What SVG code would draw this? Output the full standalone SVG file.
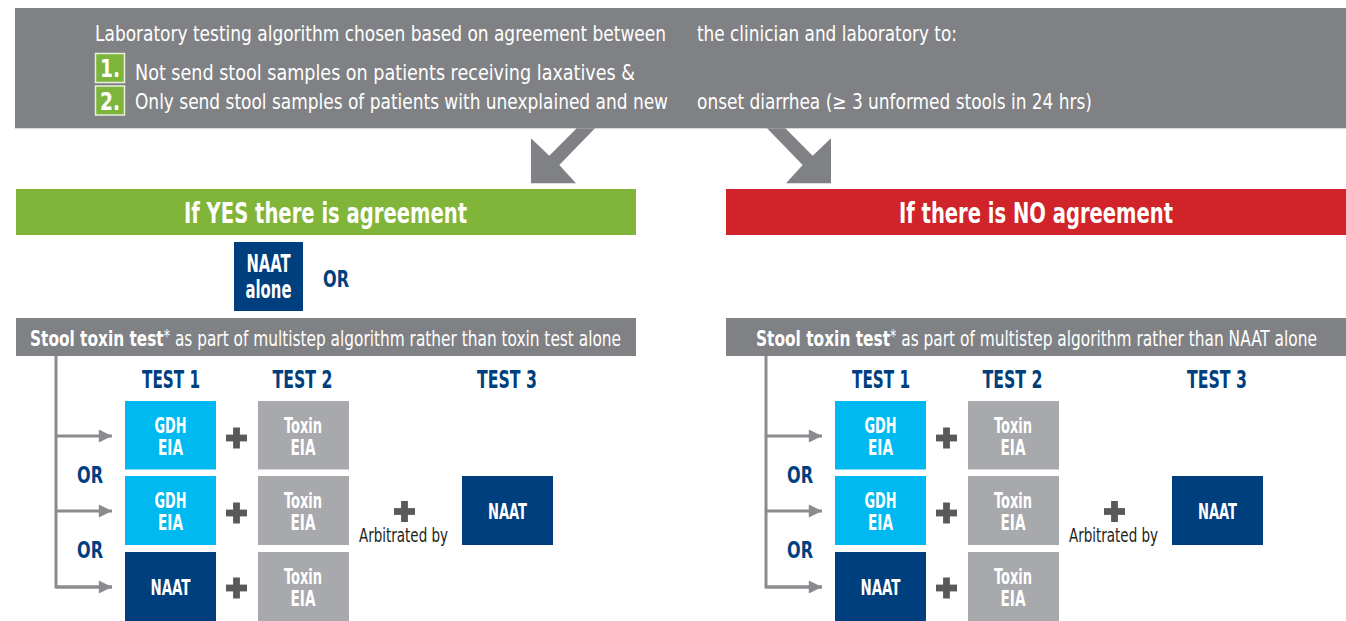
<svg xmlns="http://www.w3.org/2000/svg" width="1346" height="621" viewBox="0 0 1346 621">
<defs>
<style>
text{font-family:"Liberation Sans Narrow","DejaVu Sans Condensed","Liberation Sans",Arial,sans-serif;font-stretch:condensed;}
.top{fill:#ffffff;font-size:20.5px;}
.num{fill:#ffffff;font-size:24px;font-weight:bold;text-anchor:middle;}
.hdr{fill:#ffffff;font-size:29px;font-weight:bold;text-anchor:middle;}
.bar{fill:#ffffff;font-size:22px;}
.blue{fill:#003f7e;font-weight:bold;text-anchor:middle;}
.bx{fill:#ffffff;font-size:21px;font-weight:bold;text-anchor:middle;}
.arb{fill:#231f20;font-size:19px;text-anchor:middle;}
.g{fill:#808184;}
.cyan{fill:#00b9f0;}
.dblue{fill:#003f7e;}
.tox{fill:#a7a9ac;}
.plus{fill:#58595b;}
.conn{stroke:#8a8b8e;stroke-width:3;fill:none;}
</style>
<marker id="ah" viewBox="0 0 10 10" refX="10" refY="5" markerWidth="6" markerHeight="4.4" markerUnits="strokeWidth" orient="auto">
<path d="M0,0 L10,5 L0,10 Z" fill="#8a8b8e"/>
</marker>
<g id="plusShape"><rect x="-10.5" y="-3.4" width="21" height="6.8"/><rect x="-3.4" y="-10.5" width="6.8" height="21"/></g>
</defs>

<g id="top-box">
<rect class="g" x="15" y="8" width="1331" height="120.3"/>
<text class="top" x="95" y="41" textLength="571" lengthAdjust="spacingAndGlyphs">Laboratory testing algorithm chosen based on agreement between</text>
<text class="top" x="697" y="41" textLength="260" lengthAdjust="spacingAndGlyphs">the clinician and laboratory to:</text>
<rect x="95.5" y="53.5" width="29" height="29" fill="#7db43c" stroke="#e8f0dc" stroke-width="1.5"/>
<text class="num" x="110" y="77" textLength="20" lengthAdjust="spacingAndGlyphs">1.</text>
<rect x="95.5" y="86" width="29" height="29" fill="#7db43c" stroke="#e8f0dc" stroke-width="1.5"/>
<text class="num" x="110" y="109.5" textLength="20" lengthAdjust="spacingAndGlyphs">2.</text>
<text class="top" x="135" y="80" textLength="500" lengthAdjust="spacingAndGlyphs">Not send stool samples on patients receiving laxatives &amp;</text>
<text class="top" x="135" y="109" textLength="533" lengthAdjust="spacingAndGlyphs">Only send stool samples of patients with unexplained and new</text>
<text class="top" x="697" y="109" textLength="395" lengthAdjust="spacingAndGlyphs">onset diarrhea (≥ 3 unformed stools in 24 hrs)</text>
</g>

<g id="connectors">
<polygon class="g" points="576.7,128.3 595,128.3 559.3,165 576,183.3 531,183.3 531,138.3 549.3,155.7"/>
<polygon class="g" points="767,128.3 785.3,128.3 812.7,155.7 831,138.3 831,183.3 786,183.3 802.7,165"/>
<path class="conn" d="M56,356 V587 H112"/>
<path class="conn" d="M56,436 H112" marker-end="url(#ah)"/>
<path class="conn" d="M56,511 H112" marker-end="url(#ah)"/>
<path class="conn" d="M56,587 H112" marker-end="url(#ah)"/>
<path class="conn" d="M766,356 V587 H822"/>
<path class="conn" d="M766,436 H822" marker-end="url(#ah)"/>
<path class="conn" d="M766,511 H822" marker-end="url(#ah)"/>
<path class="conn" d="M766,587 H822" marker-end="url(#ah)"/>
</g>

<g id="yes-header">
<rect x="16" y="189" width="620" height="46" fill="#80b539"/>
<text class="hdr" x="325.5" y="223" textLength="283" lengthAdjust="spacingAndGlyphs">If YES there is agreement</text>
</g>
<g id="no-header">
<rect x="726" y="189" width="620" height="46" fill="#d1232a"/>
<text class="hdr" x="1036" y="223" textLength="274" lengthAdjust="spacingAndGlyphs">If there is NO agreement</text>
</g>

<g id="naat-alone">
<rect class="dblue" x="234" y="242" width="69" height="69"/>
<text class="bx" x="268.5" y="271.5" textLength="44" lengthAdjust="spacingAndGlyphs" style="font-size:24px">NAAT</text>
<text class="bx" x="268.5" y="298" textLength="46" lengthAdjust="spacingAndGlyphs" style="font-size:24px">alone</text>
</g>
<g id="or-top"><text class="blue" x="336" y="287" style="font-size:23px" textLength="26" lengthAdjust="spacingAndGlyphs">OR</text></g>

<g id="left-bar">
<rect class="g" x="16" y="318" width="620" height="38"/>
<text class="bar" x="30" y="346" textLength="591" lengthAdjust="spacingAndGlyphs"><tspan font-weight="bold">Stool toxin test</tspan><tspan font-size="18" dy="-4">*</tspan><tspan dy="4"> as part of multistep algorithm rather than toxin test alone</tspan></text>
</g>
<g id="right-bar">
<rect class="g" x="726" y="318" width="620" height="38"/>
<text class="bar" x="756" y="346" textLength="561" lengthAdjust="spacingAndGlyphs"><tspan font-weight="bold">Stool toxin test</tspan><tspan font-size="18" dy="-4">*</tspan><tspan dy="4"> as part of multistep algorithm rather than NAAT alone</tspan></text>
</g>

<g id="left-algorithm">
<text class="blue" x="171" y="388" style="font-size:25px" textLength="58" lengthAdjust="spacingAndGlyphs">TEST 1</text>
<text class="blue" x="302.5" y="388" style="font-size:25px" textLength="60" lengthAdjust="spacingAndGlyphs">TEST 2</text>
<text class="blue" x="507" y="388" style="font-size:25px" textLength="60" lengthAdjust="spacingAndGlyphs">TEST 3</text>
<g id="l-gdh1"><rect class="cyan" x="125" y="401" width="91" height="68.5"/>
<text class="bx" x="170.5" y="432.5" textLength="32" lengthAdjust="spacingAndGlyphs">GDH</text>
<text class="bx" x="170.5" y="455" textLength="25" lengthAdjust="spacingAndGlyphs">EIA</text></g>
<g id="l-tox1"><rect class="tox" x="258" y="401" width="91" height="68.5"/>
<text class="bx" x="303" y="432.5" textLength="38" lengthAdjust="spacingAndGlyphs">Toxin</text>
<text class="bx" x="303" y="455" textLength="25" lengthAdjust="spacingAndGlyphs">EIA</text></g>
<g id="l-gdh2"><rect class="cyan" x="125" y="476" width="91" height="69"/>
<text class="bx" x="170.5" y="507.5" textLength="32" lengthAdjust="spacingAndGlyphs">GDH</text>
<text class="bx" x="170.5" y="530" textLength="25" lengthAdjust="spacingAndGlyphs">EIA</text></g>
<g id="l-tox2"><rect class="tox" x="258" y="476" width="91" height="69"/>
<text class="bx" x="303" y="507.5" textLength="38" lengthAdjust="spacingAndGlyphs">Toxin</text>
<text class="bx" x="303" y="530" textLength="25" lengthAdjust="spacingAndGlyphs">EIA</text></g>
<g id="l-naat1"><rect class="dblue" x="125" y="552" width="91" height="69"/>
<text class="bx" x="170.5" y="594.5" textLength="40" lengthAdjust="spacingAndGlyphs">NAAT</text></g>
<g id="l-tox3"><rect class="tox" x="258" y="552" width="91" height="69"/>
<text class="bx" x="303" y="583.5" textLength="38" lengthAdjust="spacingAndGlyphs">Toxin</text>
<text class="bx" x="303" y="606" textLength="25" lengthAdjust="spacingAndGlyphs">EIA</text></g>
<g id="l-naat3"><rect class="dblue" x="462" y="476" width="91" height="69"/>
<text class="bx" x="507.5" y="518.5" style="font-size:22px" textLength="39" lengthAdjust="spacingAndGlyphs">NAAT</text></g>
<use href="#plusShape" class="plus" x="236.5" y="438"/>
<use href="#plusShape" class="plus" x="236.5" y="513"/>
<use href="#plusShape" class="plus" x="236.5" y="588"/>
<use href="#plusShape" class="plus" x="404.5" y="511.5"/>
<text class="arb" x="403.5" y="542" textLength="89" lengthAdjust="spacingAndGlyphs">Arbitrated by</text>
<text class="blue" x="90" y="483" style="font-size:23px" textLength="26" lengthAdjust="spacingAndGlyphs">OR</text>
<text class="blue" x="90" y="558" style="font-size:23px" textLength="26" lengthAdjust="spacingAndGlyphs">OR</text>
</g>

<g id="right-algorithm">
<text class="blue" x="881" y="388" style="font-size:25px" textLength="58" lengthAdjust="spacingAndGlyphs">TEST 1</text>
<text class="blue" x="1012.5" y="388" style="font-size:25px" textLength="60" lengthAdjust="spacingAndGlyphs">TEST 2</text>
<text class="blue" x="1217" y="388" style="font-size:25px" textLength="60" lengthAdjust="spacingAndGlyphs">TEST 3</text>
<g id="r-gdh1"><rect class="cyan" x="835" y="401" width="91" height="68.5"/>
<text class="bx" x="880.5" y="432.5" textLength="32" lengthAdjust="spacingAndGlyphs">GDH</text>
<text class="bx" x="880.5" y="455" textLength="25" lengthAdjust="spacingAndGlyphs">EIA</text></g>
<g id="r-tox1"><rect class="tox" x="968" y="401" width="91" height="68.5"/>
<text class="bx" x="1013" y="432.5" textLength="38" lengthAdjust="spacingAndGlyphs">Toxin</text>
<text class="bx" x="1013" y="455" textLength="25" lengthAdjust="spacingAndGlyphs">EIA</text></g>
<g id="r-gdh2"><rect class="cyan" x="835" y="476" width="91" height="69"/>
<text class="bx" x="880.5" y="507.5" textLength="32" lengthAdjust="spacingAndGlyphs">GDH</text>
<text class="bx" x="880.5" y="530" textLength="25" lengthAdjust="spacingAndGlyphs">EIA</text></g>
<g id="r-tox2"><rect class="tox" x="968" y="476" width="91" height="69"/>
<text class="bx" x="1013" y="507.5" textLength="38" lengthAdjust="spacingAndGlyphs">Toxin</text>
<text class="bx" x="1013" y="530" textLength="25" lengthAdjust="spacingAndGlyphs">EIA</text></g>
<g id="r-naat1"><rect class="dblue" x="835" y="552" width="91" height="69"/>
<text class="bx" x="880.5" y="594.5" textLength="40" lengthAdjust="spacingAndGlyphs">NAAT</text></g>
<g id="r-tox3"><rect class="tox" x="968" y="552" width="91" height="69"/>
<text class="bx" x="1013" y="583.5" textLength="38" lengthAdjust="spacingAndGlyphs">Toxin</text>
<text class="bx" x="1013" y="606" textLength="25" lengthAdjust="spacingAndGlyphs">EIA</text></g>
<g id="r-naat3"><rect class="dblue" x="1172" y="476" width="91" height="69"/>
<text class="bx" x="1217.5" y="518.5" style="font-size:22px" textLength="39" lengthAdjust="spacingAndGlyphs">NAAT</text></g>
<use href="#plusShape" class="plus" x="946.5" y="438"/>
<use href="#plusShape" class="plus" x="946.5" y="513"/>
<use href="#plusShape" class="plus" x="946.5" y="588"/>
<use href="#plusShape" class="plus" x="1114.5" y="511.5"/>
<text class="arb" x="1113.5" y="542" textLength="89" lengthAdjust="spacingAndGlyphs">Arbitrated by</text>
<text class="blue" x="800" y="483" style="font-size:23px" textLength="26" lengthAdjust="spacingAndGlyphs">OR</text>
<text class="blue" x="800" y="558" style="font-size:23px" textLength="26" lengthAdjust="spacingAndGlyphs">OR</text>
</g>
</svg>
